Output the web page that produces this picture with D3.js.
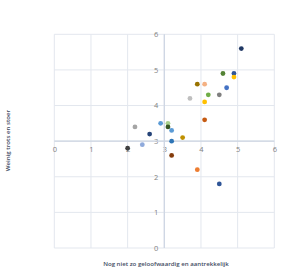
<!DOCTYPE html>
<head>
  <meta charset="utf-8">
  <style>
    body { margin: 0; background: #fff; }
    text { font-family: "Open Sans", "Liberation Sans", sans-serif; }
  </style>
  <title>Kwadrant</title>
</head>
<body>
  <script src="https://cdn.jsdelivr.net/npm/d3@7/dist/d3.min.js"></script>
  <svg width="300" height="276"></svg>
  <script>
    // data
    var xVals = [5.1, 4.6, 4.9, 4.9, 4.7, 3.9, 4.1, 4.2, 4.5, 3.7, 4.1, 4.1, 2.9,
                 3.1, 3.1, 3.2, 2.6, 3.5, 2.2, 2.4, 2.0, 3.2, 3.2, 3.9, 4.5];
    var yVals = [5.6, 4.9, 4.9, 4.8, 4.5, 4.6, 4.6, 4.3, 4.3, 4.2, 4.1, 3.6, 3.5,
                 3.5, 3.4, 3.3, 3.2, 3.1, 3.4, 2.9, 2.8, 3.0, 2.6, 2.2, 1.8];
    var colors = ["#203864", "#548235", "#2f5597", "#ffc000", "#4472c4", "#997300",
                  "#f4b183", "#70ad47", "#7f7f7f", "#bfbfbf", "#ffc000", "#c55a11",
                  "#5b9bd5", "#a9d18e", "#375623", "#5b9bd5", "#264478", "#bf9000",
                  "#a5a5a5", "#8faadc", "#404040", "#2e75b6", "#843c0c", "#ed7d31",
                  "#2f5597"];
    var ticks = [0, 1, 2, 3, 4, 5, 6];
    var xTitle = "Nog niet zo geloofwaardig en aantrekkelijk",
        yTitle = "Weinig trots en stoer";

    var svg = d3.select("svg");

    var x = d3.scaleLinear().domain([0, 6]).range([54.3, 274.3]),
        y = d3.scaleLinear().domain([0, 6]).range([248, 34.3]);

    // grid
    var grid = svg.append("g");
    grid.selectAll(".vg").data(ticks).enter().append("line")
        .attr("x1", function(d) { return x(d); })
        .attr("x2", function(d) { return x(d); })
        .attr("y1", y(6)).attr("y2", y(0))
        .attr("stroke", "#e3e7ee").attr("stroke-width", 1);
    grid.selectAll(".hg").data(ticks).enter().append("line")
        .attr("y1", function(d) { return y(d); })
        .attr("y2", function(d) { return y(d); })
        .attr("x1", x(0)).attr("x2", x(6))
        .attr("stroke", "#e3e7ee").attr("stroke-width", 1);

    // axes cross at (3,3)
    var xAxis = svg.append("g")
        .attr("transform", "translate(0," + y(3) + ")")
        .call(d3.axisBottom(x).tickValues(ticks).tickSize(0).tickPadding(6)
              .tickFormat(d3.format("d")));
    xAxis.select(".domain").remove();

    var yAxis = svg.append("g")
        .attr("transform", "translate(" + x(3) + ",0)")
        .call(d3.axisLeft(y).tickValues(ticks).tickSize(0).tickPadding(6)
              .tickFormat(d3.format("d")));
    yAxis.select(".domain").remove();

    svg.selectAll(".tick text")
        .attr("fill", "#7f7f7f")
        .attr("font-size", "7.5px")
        .attr("font-family", "Open Sans, Liberation Sans, sans-serif");

    svg.append("line")
        .attr("x1", x(0)).attr("x2", x(6))
        .attr("y1", y(3)).attr("y2", y(3))
        .attr("stroke", "#ccd5e2").attr("stroke-width", 1.2);
    svg.append("line")
        .attr("x1", x(3)).attr("x2", x(3))
        .attr("y1", y(6)).attr("y2", y(0))
        .attr("stroke", "#ccd5e2").attr("stroke-width", 1.2);

    // points
    svg.selectAll(".dot")
        .data(xVals)
        .enter().append("circle")
        .attr("class", "dot")
        .attr("cx", function(d) { return x(d); })
        .attr("cy", function(d, i) { return y(yVals[i]); })
        .attr("r", 2.4)
        .attr("fill", function(d, i) { return colors[i]; });

    // axis titles
    svg.append("text")
        .attr("x", 166)
        .attr("y", 266)
        .attr("text-anchor", "middle")
        .attr("font-size", "6.1px")
        .attr("font-weight", "600")
        .attr("fill", "#3f4d63")
        .text(xTitle);

    svg.append("text")
        .attr("transform", "translate(10," + 140.5 + ") rotate(-90)")
        .attr("text-anchor", "middle")
        .attr("font-size", "6.1px")
        .attr("font-weight", "600")
        .attr("fill", "#3f4d63")
        .text(yTitle);
  </script>
</body>
